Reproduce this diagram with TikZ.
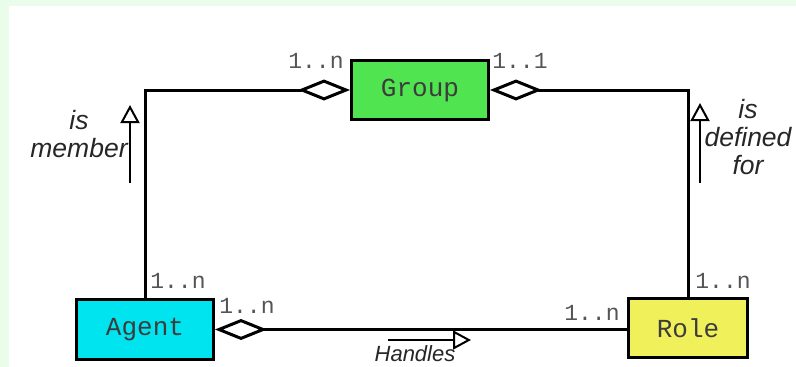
\documentclass[tikz,border=0pt]{standalone}
\usepackage{fontspec}
\setmainfont{Liberation Sans}
\setmonofont{Liberation Mono}
\usetikzlibrary{arrows.meta}
\definecolor{bggreen}{RGB}{234,253,234}
\definecolor{groupfill}{RGB}{80,228,80}
\definecolor{agentfill}{RGB}{0,228,240}
\definecolor{rolefill}{RGB}{240,240,90}
\definecolor{boxtext}{RGB}{60,60,60}
\definecolor{multgray}{RGB}{85,85,85}
\begin{document}
\begin{tikzpicture}[x=1pt,y=-1pt,
  umlbox/.style={draw, line width=3pt, inner sep=0pt, font=\fontsize{26}{26}\selectfont\ttfamily, text=boxtext},
  mult/.style={font=\fontsize{23}{23}\selectfont\ttfamily, text=multgray, inner sep=0pt, anchor=base},
  lbl/.style={font=\fontsize{26.5}{28}\selectfont\itshape, align=center, inner sep=0pt, text=black!85},
  conn/.style={line width=3pt},
  aggend/.style={-{Diamond[open, length=52pt, width=21pt, line width=3pt]}},
  aggstart/.style={{Diamond[open, length=52pt, width=21pt, line width=3pt]}-},
  dirarrow/.style={line width=2pt, -{Triangle[open, length=18pt, width=19pt, line width=2pt]}}
]
\useasboundingbox (0,0) rectangle (796,367);
\fill[bggreen] (0,0) rectangle (796,367);
\fill[white] (9,6) rectangle (796,367);

\node[umlbox, fill=groupfill, minimum width=137pt, minimum height=59pt] (group) at (420,90) {Group};
\node[umlbox, fill=agentfill, minimum width=137pt, minimum height=60pt] (agent) at (145,329.5) {Agent};
\node[umlbox, fill=rolefill, minimum width=119pt, minimum height=59pt] (role) at (688,328) {Role};

\draw[conn, aggend] (agent.north) |- (group.west);
\draw[conn, aggend] (role.north) |- (group.east);
\draw[conn, aggstart] (agent.east) -- (agent.east -| role.west);

\node[mult] (m1) at (316,68) {1..n};
\node[mult] (m2) at (520,68) {1..1};
\node[mult] (m3) at (178,288) {1..n};
\node[mult] (m4) at (247,313) {1..n};
\node[mult] (m5) at (592,320) {1..n};
\node[mult] (m6) at (723,288) {1..n};

\coordinate (a1s) at (130,183);
\coordinate (a1e) at (130,105);
\draw[dirarrow] (a1s) -- (a1e);
\coordinate (a2s) at (700,183);
\coordinate (a2e) at (700,103);
\draw[dirarrow] (a2s) -- (a2e);
\coordinate (a3s) at (388,340);
\coordinate (a3e) at (471,340);
\draw[dirarrow] (a3s) -- (a3e);

\node[lbl] (ismember) at (79,134) {is\\member};
\node[lbl] (isdefined) at (748,137) {is\\defined\\for};
\node[lbl, font=\fontsize{22}{24}\selectfont\itshape, anchor=base] (handles) at (415,361) {Handles};
\end{tikzpicture}
\end{document}
